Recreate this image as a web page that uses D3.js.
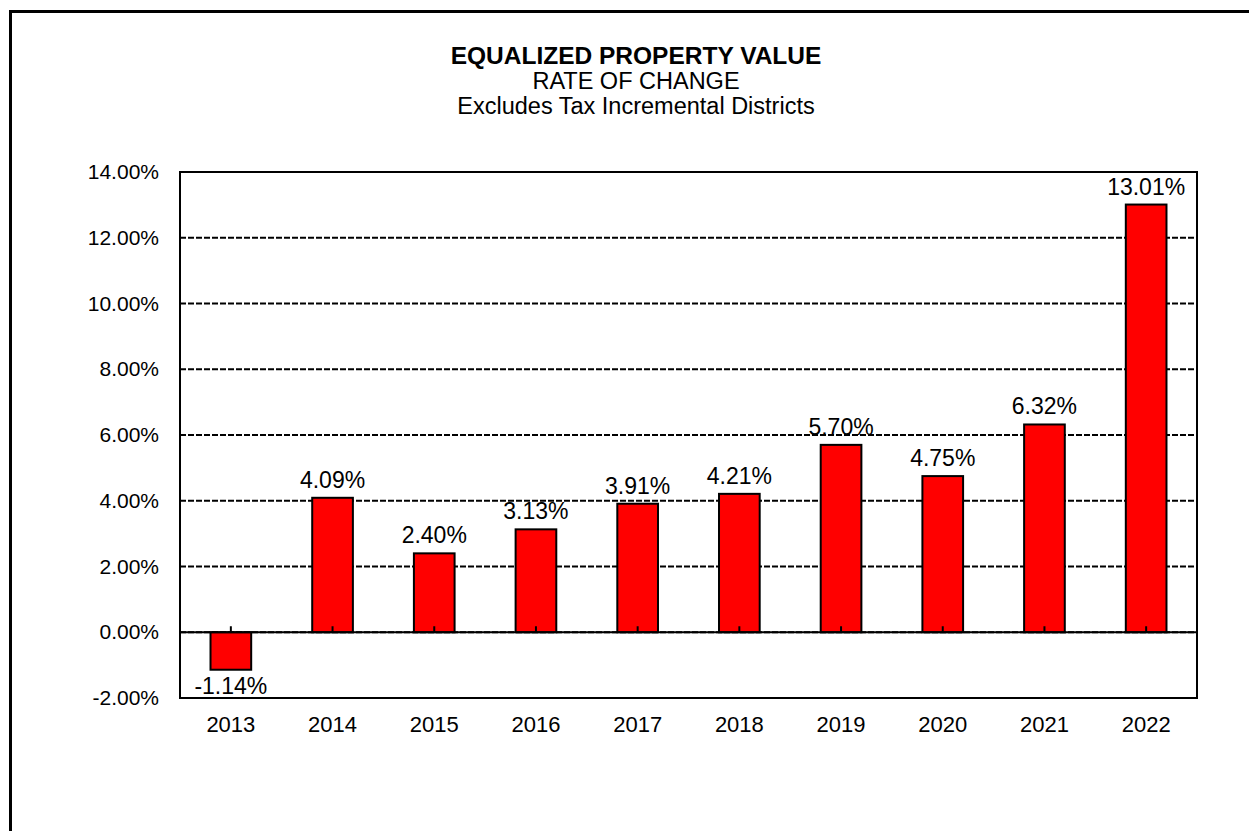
<!DOCTYPE html>
<html>
<head>
<meta charset="utf-8">
<script src="https://cdn.jsdelivr.net/npm/d3@7"></script>
<style>
  body { margin: 0; background: #fff; }
  text { font-family: Arial, "Liberation Sans", sans-serif; fill: #000; }
</style>
</head>
<body>
<svg width="1249" height="831"></svg>
<script>
// data
var years = ["2013", "2014", "2015", "2016", "2017", "2018", "2019", "2020", "2021", "2022"];
var rates = [-1.14, 4.09, 2.40, 3.13, 3.91, 4.21, 5.70, 4.75, 6.32, 13.01];
var yTicks = [-2, 0, 2, 4, 6, 8, 10, 12, 14];
var titleLines = ["EQUALIZED PROPERTY VALUE", "RATE OF CHANGE", "Excludes Tax Incremental Districts"];

var svg = d3.select("svg");

// outer frame (runs off the right and bottom edge)
svg.append("rect")
  .attr("x", 10.5).attr("y", 11.5)
  .attr("width", 1400).attr("height", 1000)
  .style("fill", "none").style("stroke", "#000").style("stroke-width", 3);

var plotL = 180, plotR = 1197, plotT = 172, plotB = 698;

var xScale = d3.scaleBand()
  .domain(years).range([plotL, plotR])
  .paddingInner(0.6).paddingOuter(0.3);

var yScale = d3.scaleLinear()
  .domain([-2, 14]).range([plotB, plotT]);

// plain hyphen for negatives, like the original
var fmt = d3.formatLocale({ decimal: ".", thousands: ",", grouping: [3], currency: ["", ""], minus: "-" }).format(".2f");

// gridlines
svg.append("g").selectAll("line")
  .data(yTicks).enter()
  .append("line")
  .attr("x1", plotL).attr("x2", plotR)
  .attr("y1", d => yScale(d)).attr("y2", d => yScale(d))
  .style("stroke", "#000").style("stroke-width", 2)
  .style("stroke-dasharray", "6,2");

// y axis labels
var yAxis = d3.axisLeft(yScale)
  .tickValues(yTicks)
  .tickFormat(d => fmt(d) + "%")
  .tickSize(0).tickPadding(21);

svg.append("g").attr("class", "y axis")
  .attr("transform", "translate(" + plotL + ",0)")
  .call(yAxis)
  .call(g => g.select(".domain").remove())
  .selectAll("text")
  .style("font-size", "21px")
  .style("font-family", "Arial, 'Liberation Sans', sans-serif");

// bars
svg.append("g").selectAll("rect")
  .data(rates).enter()
  .append("rect")
  .attr("x", (d, i) => xScale(years[i]))
  .attr("y", d => yScale(Math.max(0, d)))
  .attr("width", xScale.bandwidth())
  .attr("height", d => Math.abs(yScale(d) - yScale(0)))
  .style("fill", "#ff0000").style("stroke", "#000").style("stroke-width", 2);

// zero line
svg.append("line")
  .attr("x1", plotL).attr("x2", plotR)
  .attr("y1", yScale(0)).attr("y2", yScale(0))
  .style("stroke", "#000").style("stroke-width", 2);

// small category ticks on the zero line
svg.append("g").selectAll("line")
  .data(years).enter()
  .append("line")
  .attr("x1", d => xScale(d) + xScale.bandwidth() / 2)
  .attr("x2", d => xScale(d) + xScale.bandwidth() / 2)
  .attr("y1", yScale(0)).attr("y2", yScale(0) - 6)
  .style("stroke", "#000").style("stroke-width", 2);

// plot frame
svg.append("rect")
  .attr("x", plotL).attr("y", plotT)
  .attr("width", plotR - plotL).attr("height", plotB - plotT)
  .style("fill", "none").style("stroke", "#000").style("stroke-width", 2);

// x labels
var xAxis = d3.axisBottom(xScale).tickSize(0).tickPadding(18);
svg.append("g").attr("class", "x axis")
  .attr("transform", "translate(0," + plotB + ")")
  .call(xAxis)
  .call(g => g.select(".domain").remove())
  .selectAll("text")
  .style("font-size", "22px")
  .style("font-family", "Arial, 'Liberation Sans', sans-serif");

// value labels
svg.append("g").selectAll("text")
  .data(rates).enter()
  .append("text")
  .attr("x", (d, i) => xScale(years[i]) + xScale.bandwidth() / 2)
  .attr("y", d => d >= 0 ? yScale(d) - 10 : yScale(d) + 24)
  .attr("text-anchor", "middle")
  .style("font-size", "23px")
  .text(d => fmt(d) + "%");

// title
svg.append("g").selectAll("text")
  .data(titleLines).enter()
  .append("text")
  .attr("x", 636)
  .attr("y", (d, i) => [64, 89, 114][i])
  .attr("text-anchor", "middle")
  .style("font-size", (d, i) => i === 0 ? "24.5px" : "23.5px")
  .style("font-weight", (d, i) => i === 0 ? "bold" : "normal")
  .text(d => d);
</script>
</body>
</html>
